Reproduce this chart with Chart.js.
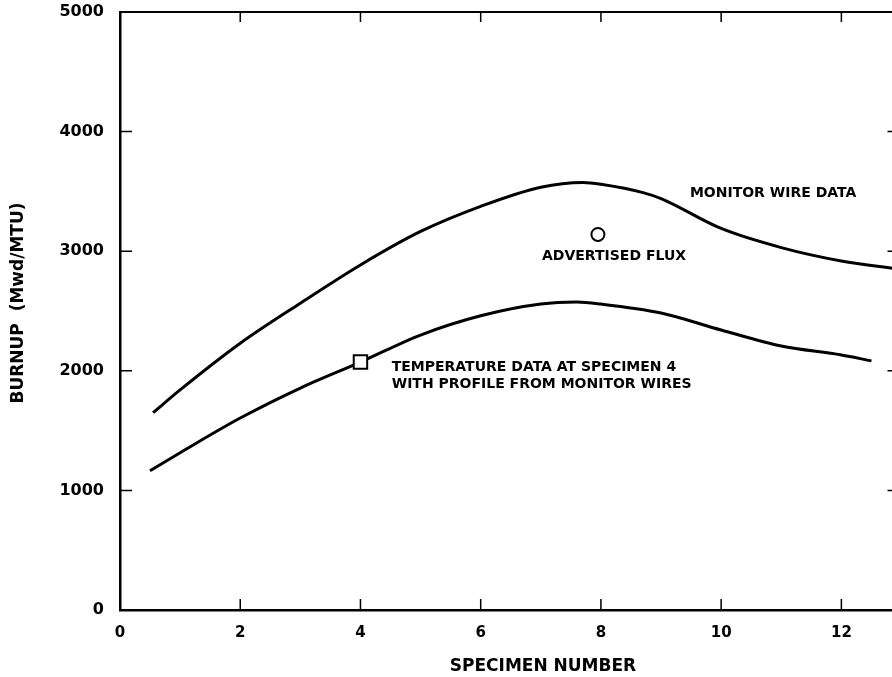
<!DOCTYPE html>
<html>
<head>
<meta charset="utf-8">
<script src="https://cdn.jsdelivr.net/npm/chart.js@4.4.1/dist/chart.umd.min.js"></script>
<style>
  html, body { margin: 0; padding: 0; background: #fff; overflow: hidden; }
  #wrap { width: 910px; height: 677px; }
</style>
</head>
<body>
<div id="wrap"><canvas id="c" width="910" height="677"></canvas></div>
<script>
// ---- data ----
const monitorX = [0.55, 1.0, 2.0, 3.0, 4.0, 5.0, 6.0, 7.0, 7.7, 8.0, 8.7, 9.0, 10.0, 11.0, 12.0, 12.95];
const monitorY = [1650, 1840, 2230, 2565, 2885, 3165, 3375, 3535, 3575, 3560, 3490, 3440, 3190, 3030, 2918, 2852];
const tempX = [0.5, 1.0, 2.0, 3.0, 4.0, 5.0, 6.0, 7.0, 7.6, 8.0, 9.0, 10.0, 11.0, 12.0, 12.5];
const tempY = [1165, 1315, 1605, 1856, 2073, 2299, 2460, 2558, 2575, 2558, 2483, 2341, 2207, 2132, 2083];
const fluxPointX = [7.95];
const fluxPointY = [3140];
const tempPointX = [4.0];
const tempPointY = [2073];
const xTickValues = [0, 2, 4, 6, 8, 10, 12];
const yTickValues = [0, 1000, 2000, 3000, 4000, 5000];
const xTitle = 'SPECIMEN NUMBER';
const yTitle = 'BURNUP  (Mwd/MTU)';
const labelMonitor = 'MONITOR WIRE DATA';
const labelFlux = 'ADVERTISED FLUX';
const labelTemp = ['TEMPERATURE DATA AT SPECIMEN 4', 'WITH PROFILE FROM MONITOR WIRES'];

const toPts = (xs, ys) => xs.map((x, i) => ({ x: x, y: ys[i] }));

const FONT = '"DejaVu Sans", sans-serif';

const decor = {
  id: 'decor',
  beforeDraw(chart) {
    const ctx = chart.ctx;
    ctx.save();
    ctx.fillStyle = '#fff';
    ctx.fillRect(0, 0, chart.width, chart.height);
    ctx.restore();
  },
  afterDraw(chart) {
    const ctx = chart.ctx;
    const xs = chart.scales.x, ys = chart.scales.y;
    const a = chart.chartArea;
    ctx.save();
    ctx.strokeStyle = '#000';
    ctx.lineWidth = 2;
    // top and right frame
    ctx.beginPath();
    ctx.moveTo(a.left, a.top); ctx.lineTo(a.right, a.top); ctx.lineTo(a.right, a.bottom);
    ctx.stroke();
    // inward ticks
    ctx.lineWidth = 1.5;
    xTickValues.forEach(v => {
      if (v === 0) return;
      const px = xs.getPixelForValue(v);
      ctx.beginPath();
      ctx.moveTo(px, a.bottom); ctx.lineTo(px, a.bottom - 11);
      ctx.moveTo(px, a.top); ctx.lineTo(px, a.top + 10);
      ctx.stroke();
    });
    yTickValues.forEach(v => {
      if (v === 0 || v === 5000) return;
      const py = ys.getPixelForValue(v);
      ctx.beginPath();
      ctx.moveTo(a.left, py); ctx.lineTo(a.left + 12, py);
      ctx.moveTo(a.right, py); ctx.lineTo(a.right - 11, py);
      ctx.stroke();
    });
    // annotations
    ctx.fillStyle = '#000';
    ctx.font = 'bold 14px ' + FONT;
    ctx.textBaseline = 'middle';
    ctx.textAlign = 'left';
    ctx.fillText(labelMonitor, xs.getPixelForValue(9.48), ys.getPixelForValue(3485));
    ctx.fillText(labelFlux, xs.getPixelForValue(7.02), ys.getPixelForValue(2960));
    ctx.fillText(labelTemp[0], xs.getPixelForValue(4.52), ys.getPixelForValue(2030));
    ctx.fillText(labelTemp[1], xs.getPixelForValue(4.52), ys.getPixelForValue(1888));
    // axis titles
    ctx.font = 'bold 17px ' + FONT;
    ctx.textAlign = 'center';
    ctx.fillText(xTitle, 543, 667);
    ctx.save();
    ctx.translate(19, 303);
    ctx.rotate(-Math.PI / 2);
    ctx.font = 'bold 17px ' + FONT;
    ctx.fillText(yTitle, 0, 0);
    ctx.restore();
    ctx.restore();
  }
};

new Chart(document.getElementById('c'), {
  type: 'scatter',
  data: {
    datasets: [
      {
        label: 'Advertised flux',
        data: toPts(fluxPointX, fluxPointY),
        pointStyle: 'circle', pointRadius: 6.5, pointBorderWidth: 2,
        pointBackgroundColor: '#fff', pointBorderColor: '#000',
        showLine: false, order: 0
      },
      {
        label: 'Temperature data',
        data: toPts(tempPointX, tempPointY),
        pointStyle: 'rect', pointRadius: 9.5, pointBorderWidth: 2,
        pointBackgroundColor: '#fff', pointBorderColor: '#000',
        showLine: false, order: 0
      },
      {
        label: 'Monitor wire data',
        data: toPts(monitorX, monitorY),
        showLine: true, borderColor: '#000', borderWidth: 3,
        pointRadius: 0, cubicInterpolationMode: 'monotone', order: 1
      },
      {
        label: 'Temperature profile',
        data: toPts(tempX, tempY),
        showLine: true, borderColor: '#000', borderWidth: 3,
        pointRadius: 0, cubicInterpolationMode: 'monotone', order: 1
      }
    ]
  },
  options: {
    responsive: false,
    animation: false,
    layout: { padding: { top: 0, right: 11, left: 0, bottom: 0 } },
    plugins: { legend: { display: false }, tooltip: { enabled: false } },
    scales: {
      x: {
        type: 'linear', position: 'bottom', min: 0, max: 12.95,
        afterFit: s => { s.height = 67; s.paddingLeft = 0; s.paddingRight = 0; },
        grid: { display: false },
        border: { display: true, color: '#000', width: 2.5 },
        ticks: {
          stepSize: 2, includeBounds: false, autoSkip: false, maxRotation: 0,
          padding: 6, color: '#000', font: { family: FONT, size: 15, weight: 'bold' },
          callback: v => String(v)
        }
      },
      y: {
        type: 'linear', position: 'left', min: 0, max: 5000,
        afterFit: s => { s.width = 120; s.paddingTop = 12; s.paddingBottom = 0; },
        grid: { display: false },
        border: { display: true, color: '#000', width: 2.5 },
        ticks: {
          stepSize: 1000, includeBounds: false, autoSkip: false,
          padding: 8, color: '#000', font: { family: FONT, size: 16, weight: 'bold' },
          callback: v => String(v)
        }
      }
    }
  },
  plugins: [decor]
});
</script>
</body>
</html>
